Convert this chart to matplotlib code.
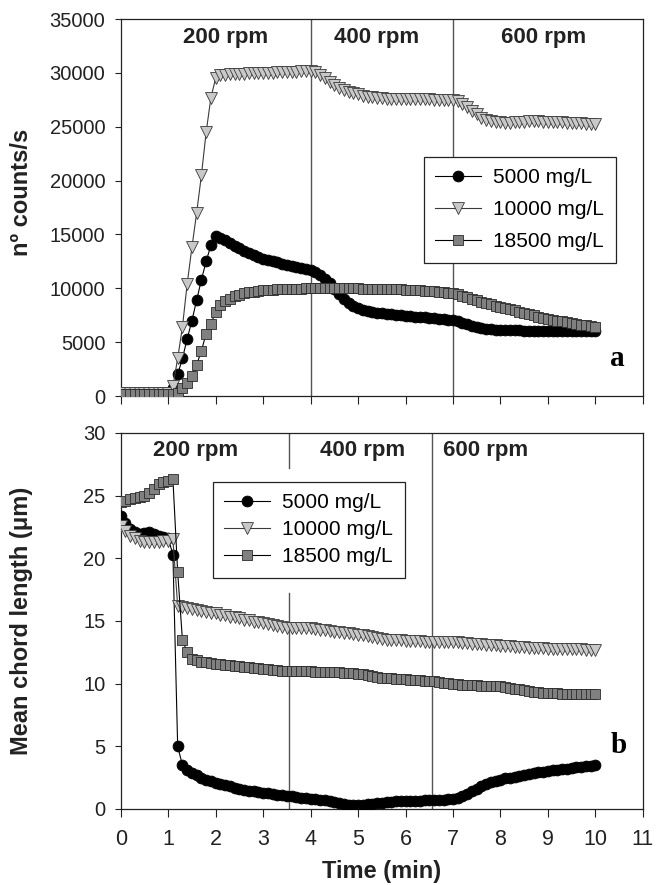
import numpy as np
import matplotlib
matplotlib.use('Agg')
import matplotlib.pyplot as plt

plt.rcParams['font.family'] = ['Liberation Sans', 'DejaVu Sans']

# sampling grid (min)
time_min = np.round(np.arange(0, 10.01, 0.1), 1)

series_names = ['5000 mg/L', '10000 mg/L', '18500 mg/L']

# panel a: n. counts/s
counts_5000 = [300] * 11 + [
    700, 2000, 3500, 5300, 7000, 8900, 10800, 12500, 14000, 14900,
    14700, 14450, 14200, 13950, 13700, 13450, 13250, 13050, 12900, 12750,
    12620, 12500, 12400, 12300, 12200, 12100, 12000, 11900, 11800, 11700,
    11500, 11250, 10900, 10450, 9950, 9450, 9000, 8650, 8350, 8150,
    8000, 7900, 7800, 7730, 7680, 7630, 7580, 7540, 7500, 7460,
    7420, 7380, 7340, 7300, 7260, 7220, 7180, 7140, 7100, 7050,
    6950, 6820, 6680, 6540, 6410, 6300, 6230, 6180, 6150, 6130,
    6120, 6110, 6100, 6090, 6080, 6070, 6060, 6050, 6050, 6040,
    6040, 6030, 6030, 6020, 6020, 6010, 6010, 6000, 6000, 6000]
counts_10000 = [300] * 11 + [
    900, 3500, 6400, 10400, 13800, 17000, 20500, 24500, 27700, 29500,
    29800, 29850, 29880, 29900, 29920, 29940, 29960, 29980, 30000, 30010,
    30020, 30030, 30040, 30060, 30080, 30100, 30120, 30140, 30160, 30170,
    30050, 29850, 29550, 29200, 28850, 28600, 28400, 28250, 28100, 28000,
    27900, 27800, 27750, 27700, 27650, 27620, 27600, 27580, 27560, 27550,
    27550, 27540, 27540, 27530, 27530, 27520, 27510, 27500, 27480, 27460,
    27350, 27150, 26850, 26500, 26150, 25850, 25650, 25500, 25420, 25400,
    25380, 25380, 25400, 25430, 25460, 25490, 25500, 25500, 25480, 25460,
    25440, 25420, 25400, 25380, 25360, 25340, 25320, 25300, 25280, 25250]
counts_18500 = [200] * 12 + [
    300, 700, 1200, 1900, 2900, 4200, 5800, 6700, 7800,
    8450, 8800, 9050, 9250, 9400, 9530, 9620, 9700, 9760, 9810,
    9850, 9880, 9910, 9930, 9950, 9960, 9970, 9980, 9990, 10000,
    10010, 10020, 10020, 10020, 10020, 10010, 10000, 10000, 9990, 9990,
    9980, 9970, 9960, 9950, 9940, 9930, 9920, 9910, 9900, 9880,
    9860, 9840, 9820, 9790, 9750, 9720, 9690, 9650, 9600, 9550,
    9450, 9320, 9180, 9030, 8880, 8740, 8610, 8500, 8400, 8300,
    8200, 8080, 7960, 7840, 7720, 7600, 7480, 7370, 7260, 7170,
    7080, 7000, 6920, 6840, 6770, 6700, 6630, 6560, 6500, 6430]

# panel b: mean chord length (um)
chord_5000 = [
    23.4, 22.8, 22.3, 22.1, 21.9, 22.0, 22.1, 21.9, 21.8, 21.7, 21.6,
    20.3, 5.0, 3.5, 3.1, 2.9, 2.7, 2.5, 2.35, 2.2, 2.1,
    2.0, 1.9, 1.8, 1.7, 1.6, 1.5, 1.45, 1.4, 1.35, 1.3,
    1.25, 1.2, 1.15, 1.1, 1.05, 1.0, 0.95, 0.9, 0.85, 0.8,
    0.78, 0.75, 0.7, 0.65, 0.55, 0.45, 0.38, 0.33, 0.3, 0.3,
    0.32, 0.36, 0.4, 0.45, 0.5, 0.55, 0.58, 0.6, 0.62, 0.64,
    0.65, 0.66, 0.67, 0.68, 0.7, 0.71, 0.72, 0.74, 0.76, 0.78,
    0.85, 1.0, 1.2, 1.4, 1.6, 1.8, 2.0, 2.15, 2.25, 2.35,
    2.45, 2.5, 2.58, 2.65, 2.72, 2.8, 2.86, 2.92, 2.98, 3.03,
    3.08, 3.13, 3.18, 3.22, 3.27, 3.32, 3.36, 3.4, 3.45, 3.5]
chord_10000 = [
    22.6, 22.2, 21.8, 21.6, 21.4, 21.3, 21.3, 21.3, 21.3, 21.35, 21.4,
    21.5, 16.2, 16.1, 16.0, 15.95, 15.9, 15.8, 15.75, 15.65, 15.6,
    15.5, 15.45, 15.35, 15.3, 15.2, 15.1, 15.05, 14.95, 14.9, 14.8,
    14.75, 14.65, 14.6, 14.5, 14.45, 14.4, 14.4, 14.4, 14.4, 14.4,
    14.35, 14.3, 14.25, 14.2, 14.15, 14.1, 14.05, 14.0, 13.95, 13.9,
    13.85, 13.8, 13.72, 13.65, 13.58, 13.52, 13.5, 13.48, 13.46, 13.44,
    13.42, 13.4, 13.38, 13.36, 13.34, 13.33, 13.33, 13.33, 13.33, 13.33,
    13.3, 13.27, 13.24, 13.2, 13.17, 13.14, 13.11, 13.08, 13.05, 13.02,
    13.0, 12.97, 12.95, 12.92, 12.9, 12.88, 12.86, 12.84, 12.82, 12.8,
    12.79, 12.78, 12.77, 12.76, 12.75, 12.74, 12.73, 12.72, 12.71, 12.7]
chord_18500 = [
    24.5, 24.6, 24.7, 24.8, 24.9, 25.0, 25.2, 25.5, 25.9, 26.1, 26.2,
    26.3, 18.9, 13.5, 12.5, 12.0, 11.85, 11.75, 11.7, 11.65, 11.6,
    11.55, 11.5, 11.45, 11.4, 11.38, 11.35, 11.3, 11.25, 11.22, 11.2,
    11.15, 11.1, 11.07, 11.04, 11.02, 11.0, 11.0, 10.99, 10.98, 10.97,
    10.96, 10.95, 10.94, 10.93, 10.92, 10.9, 10.88, 10.86, 10.83, 10.8,
    10.75, 10.68, 10.6, 10.52, 10.48, 10.45, 10.42, 10.4, 10.38, 10.35,
    10.32, 10.3, 10.27, 10.24, 10.2, 10.18, 10.12, 10.07, 10.02, 9.98,
    9.95, 9.93, 9.9, 9.88, 9.86, 9.85, 9.84, 9.82, 9.8, 9.78,
    9.72, 9.66, 9.6, 9.54, 9.48, 9.42, 9.36, 9.3, 9.26, 9.23,
    9.22, 9.22, 9.21, 9.21, 9.2, 9.2, 9.2, 9.2, 9.2, 9.2]

rpm_labels = ['200 rpm', '400 rpm', '600 rpm']

# marker styles per series: (marker, size, face, edge, line colour, zorder)
styles = [
    ('o', 7.8, 'black', 'black', 'black', 3),
    ('v', 8.2, '#c8c8c8', '#3a3a3a', '#3a3a3a', 4),
    ('s', 6.8, '#808080', '#2a2a2a', 'black', 5),
]


def plot_series(ax, ys):
    handles = []
    for y, name, (mk, ms, fc, ec, lc, z) in zip(ys, series_names, styles):
        h, = ax.plot(time_min, y, color=lc, lw=0.8, marker=mk, ms=ms,
                     mfc=fc, mec=ec, mew=0.6, label=name, zorder=z)
        handles.append(h)
    return handles


def style_axis(ax, ylim, yticks):
    ax.set_xlim(0, 11)
    ax.set_ylim(*ylim)
    ax.set_xticks(range(0, 12))
    ax.set_yticks(yticks)
    ax.tick_params(axis='y', direction='out', length=4, width=0.8,
                   labelsize=14.5, pad=7, colors='#222222')
    ax.tick_params(axis='x', direction='out', length=5.5, width=0.8,
                   labelsize=15.5, pad=9, colors='#222222')
    for sp in ax.spines.values():
        sp.set_linewidth(0.9)
        sp.set_color('#222222')


def add_legend(ax, handles, anchor, spacing):
    leg = ax.legend(handles=handles, loc='upper left', bbox_to_anchor=anchor,
                    borderaxespad=0, fontsize=15, frameon=True, fancybox=False,
                    framealpha=1, edgecolor='#222222', handlelength=2.2,
                    handletextpad=0.6, labelspacing=spacing, borderpad=0.55)
    leg.get_frame().set_linewidth(0.9)
    leg.set_zorder(10)
    return leg


fig = plt.figure(figsize=(6.56, 8.85), dpi=100)
ax1 = fig.add_axes([0.184, 0.5525, 0.796, 0.426])
ax2 = fig.add_axes([0.184, 0.0859, 0.796, 0.4249])

# ---- panel a ----
h1 = plot_series(ax1, [counts_5000, counts_10000, counts_18500])
style_axis(ax1, (0, 35000), range(0, 35001, 5000))
ax1.tick_params(axis='x', labelbottom=False)
ax1.axvline(4, color='#555555', lw=1.0, zorder=1)
ax1.axvline(7, color='#555555', lw=1.0, zorder=1)
for xpos, lab in zip([2.21, 5.4, 8.9], rpm_labels):
    ax1.text(xpos, 33300, lab, ha='center', va='center', fontsize=16,
             fontweight='bold', color='#222222')
ax1.text(10.47, 3500, 'a', family=['Liberation Serif', 'DejaVu Serif'],
         fontsize=21, fontweight='bold', ha='center', va='center')
ax1.set_ylabel('nº counts/s', fontsize=17, fontweight='bold', color='#222222')
ax1.yaxis.set_label_coords(-0.168, 0.54)
add_legend(ax1, h1, (0.58, 0.634), 0.62)

# ---- panel b ----
h2 = plot_series(ax2, [chord_5000, chord_10000, chord_18500])
style_axis(ax2, (0, 30), range(0, 31, 5))
ax2.axvline(3.55, ymin=0.907, ymax=1, color='#555555', lw=1.0, zorder=1)
ax2.axvline(3.55, ymin=0, ymax=0.574, color='#555555', lw=1.0, zorder=1)
ax2.axvline(6.55, color='#555555', lw=1.0, zorder=1)
for xpos, lab in zip([1.58, 5.09, 7.68], rpm_labels):
    ax2.text(xpos, 28.6, lab, ha='center', va='center', fontsize=16,
             fontweight='bold', color='#222222')
ax2.text(10.49, 5.1, 'b', family=['Liberation Serif', 'DejaVu Serif'],
         fontsize=21, fontweight='bold', ha='center', va='center')
ax2.set_ylabel('Mean chord length (μm)', fontsize=17, fontweight='bold',
               color='#222222')
ax2.yaxis.set_label_coords(-0.168, 0.5)
ax2.set_xlabel('Time (min)', fontsize=17, fontweight='bold', color='#222222',
               labelpad=7)
add_legend(ax2, h2, (0.176, 0.87), 0.38)

fig.savefig('out.png', dpi=100)
